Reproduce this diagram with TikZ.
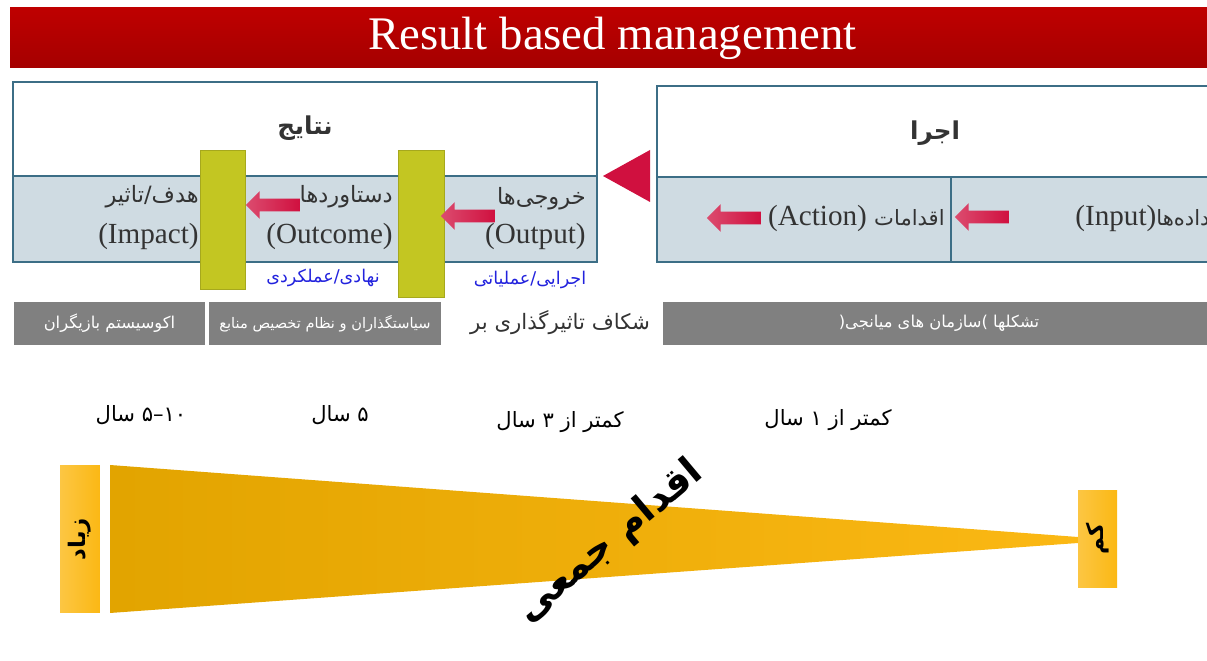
\documentclass[tikz,border=0pt]{standalone}
\usepackage{fontspec}
\setmainfont{Liberation Serif}
\newfontfamily\fa[Script=Arabic]{DejaVu Sans}
\usetikzlibrary{shapes.arrows, shapes.geometric}
\TeXXeTstate=1
\definecolor{rbmred}{HTML}{B70000}
\definecolor{rbmteal}{HTML}{3C6E86}
\definecolor{rbmpale}{HTML}{CFDBE2}
\definecolor{rbmolive}{HTML}{C3C622}
\definecolor{rbmcrimson}{HTML}{D0103F}
\definecolor{rbmgray}{HTML}{808080}
\definecolor{rbmorange}{HTML}{FBB814}
\definecolor{rbmdark}{HTML}{E2A400}
\definecolor{rbmblue}{HTML}{2222DD}
\definecolor{rbmtext}{HTML}{333333}
\newcommand{\rtl}[1]{{\fa\beginR #1\endR}}

\begin{document}
\begin{tikzpicture}[x=0.02cm, y=-0.02cm,
    panel/.style={draw=rbmteal, line width=0.8pt},
    gate/.style={draw=rbmolive!85!black, line width=0.3pt, fill=rbmolive,
                 minimum width=0.91cm, inner sep=0pt},
    blockarrow/.style={single arrow, shape border rotate=180,
                 left color=rbmcrimson!75!white, right color=rbmcrimson,
                 inner xsep=0pt, inner ysep=0.12cm, minimum width=0pt,
                 minimum height=1.08cm, single arrow head extend=0.15cm},
    label/.style={text=rbmtext, font=\fontsize{16.6}{18}\selectfont, inner sep=0pt},
    falabel/.style={text=rbmtext, font=\fa\fontsize{12.8}{15}\selectfont, inner sep=0pt},
    grayband/.style={fill=rbmgray, text=white, minimum height=0.86cm,
                 inner sep=0pt, font=\fa\fontsize{9.3}{11}\selectfont},
    years/.style={font=\fa\fontsize{12}{14}\selectfont, inner sep=0pt},
    sidebox/.style={left color=rbmorange!80!white, right color=rbmorange,
                 inner sep=0pt, minimum width=0.8cm}
  ]
  \useasboundingbox (0,0) rectangle (1207,661);

  % title
  \node[top color=rbmred!90!red, bottom color=rbmred!90!black, text=white,
        minimum width=24.1cm, minimum height=1.2cm, inner sep=0pt,
        font=\fontsize{26.6}{30}\selectfont] (title) at (612.5,38) {Result based management};

  % results panel
  \draw[panel, fill=white] (13,82) rectangle (597,262);
  \fill[rbmpale] (13,176) rectangle (597,262);
  \draw[panel] (13,82) rectangle (597,262);
  \draw[rbmteal, line width=1.5pt] (13,176) -- (597,176);
  \node[font=\fa\bfseries\fontsize{14}{16}\selectfont, text=rbmtext] (results) at (305,128) {\rtl{نتایج}};

  % execution panel
  \draw[panel, fill=white] (657,86) rectangle (1215,262);
  \fill[rbmpale] (657,177) rectangle (1215,262);
  \draw[panel] (657,86) rectangle (1215,262);
  \draw[rbmteal, line width=1.5pt] (657,177) -- (1215,177);
  \draw[rbmteal, line width=0.6pt] (951,177) -- (951,262);
  \node[font=\fa\bfseries\fontsize{14}{16}\selectfont, text=rbmtext] (exec) at (935,133) {\rtl{اجرا}};

  \fill[rbmcrimson] (650,150) -- (603,176) -- (650,202) -- cycle;

  % lower row texts
  \node[falabel, anchor=east] (impactfa) at (199,197) {\rtl{هدف/تاثیر}};
  \node[label, anchor=east] (impact) at (199,236) {(Impact)};
  \node[falabel, anchor=east] (outcomefa) at (393,197) {\rtl{دستاوردها}};
  \node[label, anchor=east] (outcome) at (393,236) {(Outcome)};
  \node[falabel, anchor=east] (outputfa) at (586,199) {\rtl{خروجی‌ها}};
  \node[label, anchor=east] (output) at (586,236) {(Output)};
  \node[label, anchor=east] (action) at (945,218)
       {(Action) {\fa\fontsize{12}{15}\selectfont\beginR اقدامات\endR}};
  \node[label, anchor=west] (input) at (1075,218)
       {(Input){\fa\fontsize{12}{15}\selectfont\beginR داده‌ها\endR}};

  % gates
  \node[gate, minimum height=2.78cm] (gate1) at (223,219.5) {};
  \node[gate, minimum height=2.94cm] (gate2) at (421.5,223.5) {};
  \node[text=rbmblue, font=\fa\fontsize{10}{12}\selectfont] (institutional) at (323,278) {\rtl{نهادی/عملکردی}};
  \node[text=rbmblue, font=\fa\fontsize{10}{12}\selectfont] (operational) at (530,280) {\rtl{اجرایی/عملیاتی}};

  % arrows
  \node[blockarrow] (arr1) at (276,205) {};
  \node[blockarrow] (arr2) at (471,216) {};
  \node[blockarrow] (arr3) at (737,218) {};
  \node[blockarrow] (arr4) at (985,217) {};

  % gray bands
  \node[grayband, minimum width=3.82cm] (actors) at (109.5,323.5) {\rtl{اکوسیستم بازیگران}};
  \node[grayband, minimum width=4.64cm, font=\fa\fontsize{8.3}{10}\selectfont] (policy) at (325,323.5)
       {\rtl{سیاستگذاران و نظام تخصیص منابع}};
  \node[text=rbmtext, font=\fa\fontsize{12.1}{14}\selectfont] (gap) at (560,323) {\rtl{شکاف تاثیرگذاری بر}};
  \node[grayband, minimum width=11.04cm] (intermed) at (939,323.5)
       {({\fa\beginR سازمان های میانجی\endR}) \rtl{تشکلها}};

  % time scale
  \node[years] (y10) at (141,415) {\rtl{۱۰–۵ سال}};
  \node[years] (y5) at (340,415) {\rtl{۵ سال}};
  \node[years] (y3) at (560,422) {\rtl{کمتر از ۳ سال}};
  \node[years] (y1) at (828,420) {\rtl{کمتر از ۱ سال}};

  % wedge
  \node[sidebox, minimum height=2.96cm] (many) at (80,539) {};
  \node[rotate=90, font=\fa\bfseries\fontsize{13}{15}\selectfont] (manytext) at (many) {\rtl{زیاد}};
  \shade[left color=rbmdark, right color=rbmorange]
    (110,465) -- (1078,537) -- (1078,543) -- (110,613) -- cycle;
  \node[sidebox, minimum width=0.78cm, minimum height=1.96cm] (few) at (1097.5,539) {};
  \node[rotate=90, font=\fa\bfseries\fontsize{13}{15}\selectfont] (fewtext) at (few) {\rtl{کم}};
  \node[rotate=40, font=\fa\bfseries\fontsize{22}{26}\selectfont] (collective) at (610,542) {\rtl{اقدام جمعی}};
\end{tikzpicture}
\end{document}
